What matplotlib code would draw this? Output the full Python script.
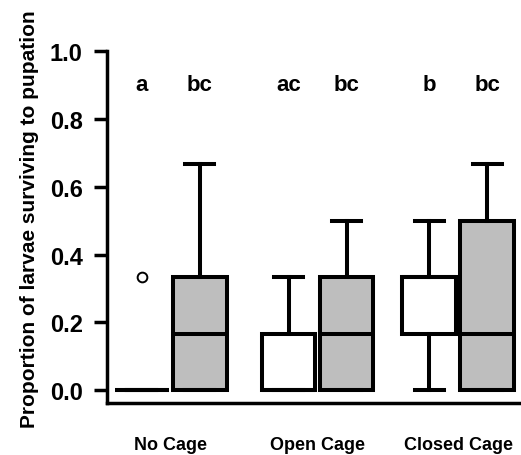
import matplotlib.pyplot as plt

plt.rcParams['font.family'] = ['Liberation Sans', 'DejaVu Sans']
plt.rcParams['font.weight'] = 'bold'

# box statistics
groups = ["No Cage", "Open Cage", "Closed Cage"]
q1 = [0.0, 0.0, 0.0, 0.0, 1/6, 0.0]
med = [0.0, 1/6, 0.0, 1/6, 1/3, 1/6]
q3 = [0.0, 1/3, 1/6, 1/3, 1/3, 0.5]
whislo = [0.0, 0.0, 0.0, 0.0, 0.0, 0.0]
whishi = [0.0, 2/3, 1/3, 0.5, 0.5, 2/3]
fliers = [[1/3], [], [], [], [], []]
letters = ["a", "bc", "ac", "bc", "b", "bc"]
fills = ["white", "#bebebe", "white", "#bebebe", "white", "#bebebe"]

pos = [1, 2, 3.53, 4.53, 5.95, 6.95]

stats = []
for i in range(6):
    stats.append(dict(q1=q1[i], med=med[i], q3=q3[i], whislo=whislo[i],
                      whishi=whishi[i], fliers=fliers[i]))

fig = plt.figure(figsize=(5.21, 4.56), dpi=100)
ax = fig.add_axes([0.2054, 0.114, 0.7946, 0.809])

lw = 2.9
bp = ax.bxp(stats, positions=pos, widths=0.92, patch_artist=True,
            boxprops=dict(linewidth=lw, edgecolor='black'),
            medianprops=dict(linewidth=lw, color='black'),
            whiskerprops=dict(linewidth=lw, color='black'),
            capprops=dict(linewidth=lw, color='black'),
            flierprops=dict(marker='o', markersize=7, markerfacecolor='white',
                            markeredgecolor='black', markeredgewidth=1.4),
            capwidths=0.5)
for b, c in zip(bp['boxes'], fills):
    b.set_facecolor(c)

for p, t in zip(pos, letters):
    ax.text(p, 0.9, t, ha='center', va='center', fontsize=16, fontweight='bold')

ax.set_xlim(0.397, 7.534)
ax.set_ylim(-0.038, 1.05)
ax.spines['top'].set_visible(False)
ax.spines['right'].set_visible(False)
ax.spines['left'].set_linewidth(2.5)
ax.spines['bottom'].set_linewidth(2.5)
ax.spines['left'].set_bounds(-0.038, 1.0)

ax.set_yticks([0.0, 0.2, 0.4, 0.6, 0.8, 1.0])
ax.set_yticklabels(["0.0", "0.2", "0.4", "0.6", "0.8", "1.0"], fontsize=17, fontweight='bold')
ax.tick_params(axis='y', length=9.5, width=2.5, pad=8)

ax.set_xticks([(pos[0] + pos[1]) / 2, (pos[2] + pos[3]) / 2, (pos[4] + pos[5]) / 2])
ax.set_xticklabels(groups, fontsize=13, fontweight='bold')
ax.tick_params(axis='x', length=0, pad=24)

ax.set_ylabel("Proportion of larvae surviving to pupation", fontsize=15, fontweight='bold', labelpad=8)

fig.savefig("out.png", dpi=100)
